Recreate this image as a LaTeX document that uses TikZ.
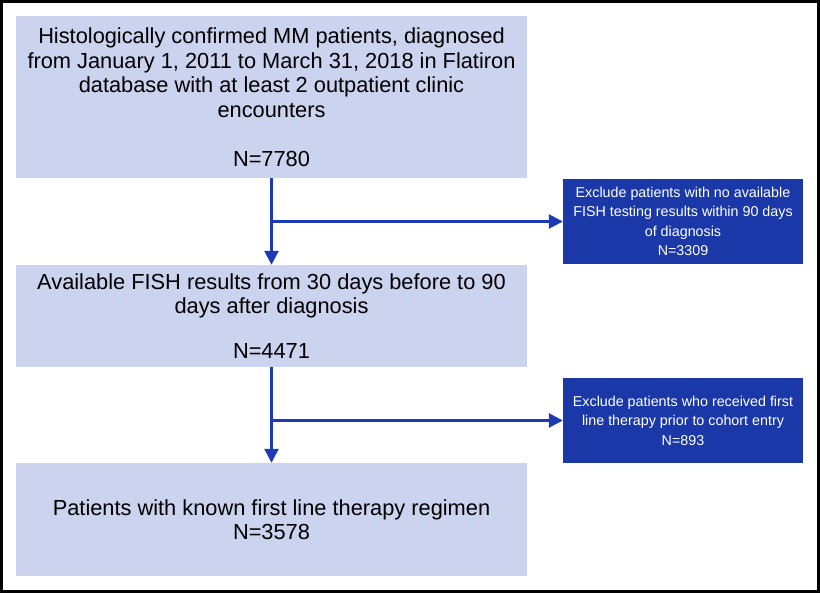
\documentclass[tikz,border=0pt]{standalone}
\usepackage{fontspec}
\setmainfont{Liberation Sans}
\usetikzlibrary{arrows.meta}
\definecolor{lightbox}{RGB}{203,211,238}
\definecolor{darkbox}{RGB}{27,56,168}
\definecolor{arrowblue}{RGB}{30,58,178}
\tikzset{
  mainbox/.style={fill=lightbox, draw=none, minimum width=511pt, align=center, inner sep=0pt,
    font=\fontsize{21.8}{24.5}\selectfont, text=black},
  exbox/.style={fill=darkbox, draw=none, minimum width=240pt, minimum height=85pt, align=center, inner sep=0pt,
    font=\fontsize{14.3}{19.4}\selectfont, text=white},
  flow/.style={draw=arrowblue, line width=2.6pt, -{Triangle[length=14pt,width=14pt]}, color=arrowblue},
}
\begin{document}
\begin{tikzpicture}[x=1pt,y=-1pt]
\useasboundingbox (0,0) rectangle (820,593);
\fill[white] (0,0) rectangle (820,593);
\draw[line width=3pt, black] (1.5,1.5) rectangle (818.5,591.5);

\node[mainbox, minimum height=162pt] (b1) at (271.5,97) {Histologically confirmed MM patients, diagnosed\\
from January 1, 2011 to March 31, 2018 in Flatiron\\
database with at least 2 outpatient clinic\\
encounters\\[24.5pt]
N=7780};

\node[mainbox, minimum height=102pt] (b2) at (271.5,316) {Available FISH results from 30 days before to 90\\
days after diagnosis\\[20pt]
N=4471};

\node[mainbox, minimum height=113pt] (b3) at (271.5,519.5) {Patients with known first line therapy regimen\\
N=3578};

\node[exbox] (e1) at (683,221.5) {Exclude patients with no available\\
FISH testing results within 90 days\\
of diagnosis\\
N=3309};

\node[exbox] (e2) at (683,420.5) {Exclude patients who received first\\
line therapy prior to cohort entry\\
N=893};

\coordinate (j1) at (b1.south |- e1.west);
\coordinate (j2) at (b2.south |- e2.west);
\draw[flow] (b1.south) -- (b2.north);
\draw[flow] (j1) -- (e1.west);
\draw[flow] (b2.south) -- (b3.north);
\draw[flow] (j2) -- (e2.west);
\end{tikzpicture}
\end{document}
